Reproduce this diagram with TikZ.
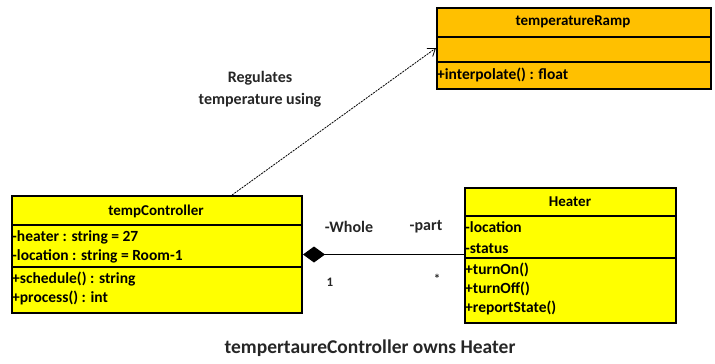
\documentclass[tikz,border=0pt]{standalone}
\usepackage{fontspec}
\setmainfont{Carlito}
\usetikzlibrary{arrows.meta}
\definecolor{clsyellow}{HTML}{FFFF00}
\definecolor{clsorange}{HTML}{FFC000}
\definecolor{lbltext}{HTML}{262626}
\tikzset{
  classbox/.style={draw=black, line width=2pt, anchor=north west, inner sep=0pt},
  divider/.style={line width=2pt},
  ctitle/.style={font=\fontsize{15}{18}\selectfont\bfseries, anchor=center},
  member/.style={font=\fontsize{15.5}{19}\selectfont\bfseries, anchor=west, inner sep=0pt, align=left},
  lbl/.style={font=\fontsize{16}{22}\selectfont\bfseries, text=lbltext, align=center},
  dep/.style={dash pattern=on 2pt off 1pt, line width=0.8pt, -{Straight Barb[length=7pt,width=10pt]}},
  comp/.style={line width=1.3pt, {Diamond[length=22pt,width=16pt]}-},
}
\begin{document}
\begin{tikzpicture}[x=1pt,y=-1pt]
\useasboundingbox (0,0) rectangle (715,364);
% tempertureRamp
\node[classbox, fill=clsorange, minimum width=274pt, minimum height=81pt] (tr) at (436,7) {};
\draw[divider] (436,37) -- (710,37);
\draw[divider] (436,62) -- (710,62);
\node[ctitle] (trt) at (573,22) {temperatureRamp};
\node[member] (trm) at (437,75) {+interpolate() : float};
% tempController
\node[classbox, fill=clsyellow, minimum width=290pt, minimum height=117pt] (tc) at (11,195) {};
\draw[divider] (11,225) -- (301,225);
\draw[divider] (11,267) -- (301,267);
\node[ctitle] (tct) at (156,211) {tempController};
\node[member] (tca) at (12,247) {-heater : string = 27\\-location : string = Room-1};
\node[member] (tcm) at (12,288) {+schedule() : string\\+process() : int};
% Heater
\node[classbox, fill=clsyellow, minimum width=211pt, minimum height=135pt] (ht) at (464,187) {};
\draw[divider] (464,216) -- (675,216);
\draw[divider] (464,258) -- (675,258);
\node[ctitle] (htt) at (570,202) {Heater};
\node[member, font=\fontsize{15.5}{21}\selectfont\bfseries] (hta) at (465,238) {-location\\-status};
\node[member] (htm) at (465,289) {+turnOn()\\+turnOff()\\+reportState()};
% dependency
\coordinate (depstart) at (232,195);
\coordinate (depend) at (436,48);
\draw[dep] (depstart) -- (depend);
\node[lbl] (reg) at (260,89) {Regulates\\temperature using};
% composition
\draw[comp] (tc.east) -- (tc.east -| ht.west);
\node[lbl] (whole) at (349,227) {-Whole};
\node[lbl] (part) at (426,227) {-part};
\node[lbl, font=\fontsize{13}{15}\selectfont\bfseries] (one) at (330,282) {1};
\node[lbl, font=\fontsize{13}{15}\selectfont\bfseries] (star) at (437,279) {*};
\node[lbl, font=\fontsize{19.5}{24}\selectfont\bfseries] (cap) at (370,348) {tempertaureController owns Heater};
\end{tikzpicture}
\end{document}
